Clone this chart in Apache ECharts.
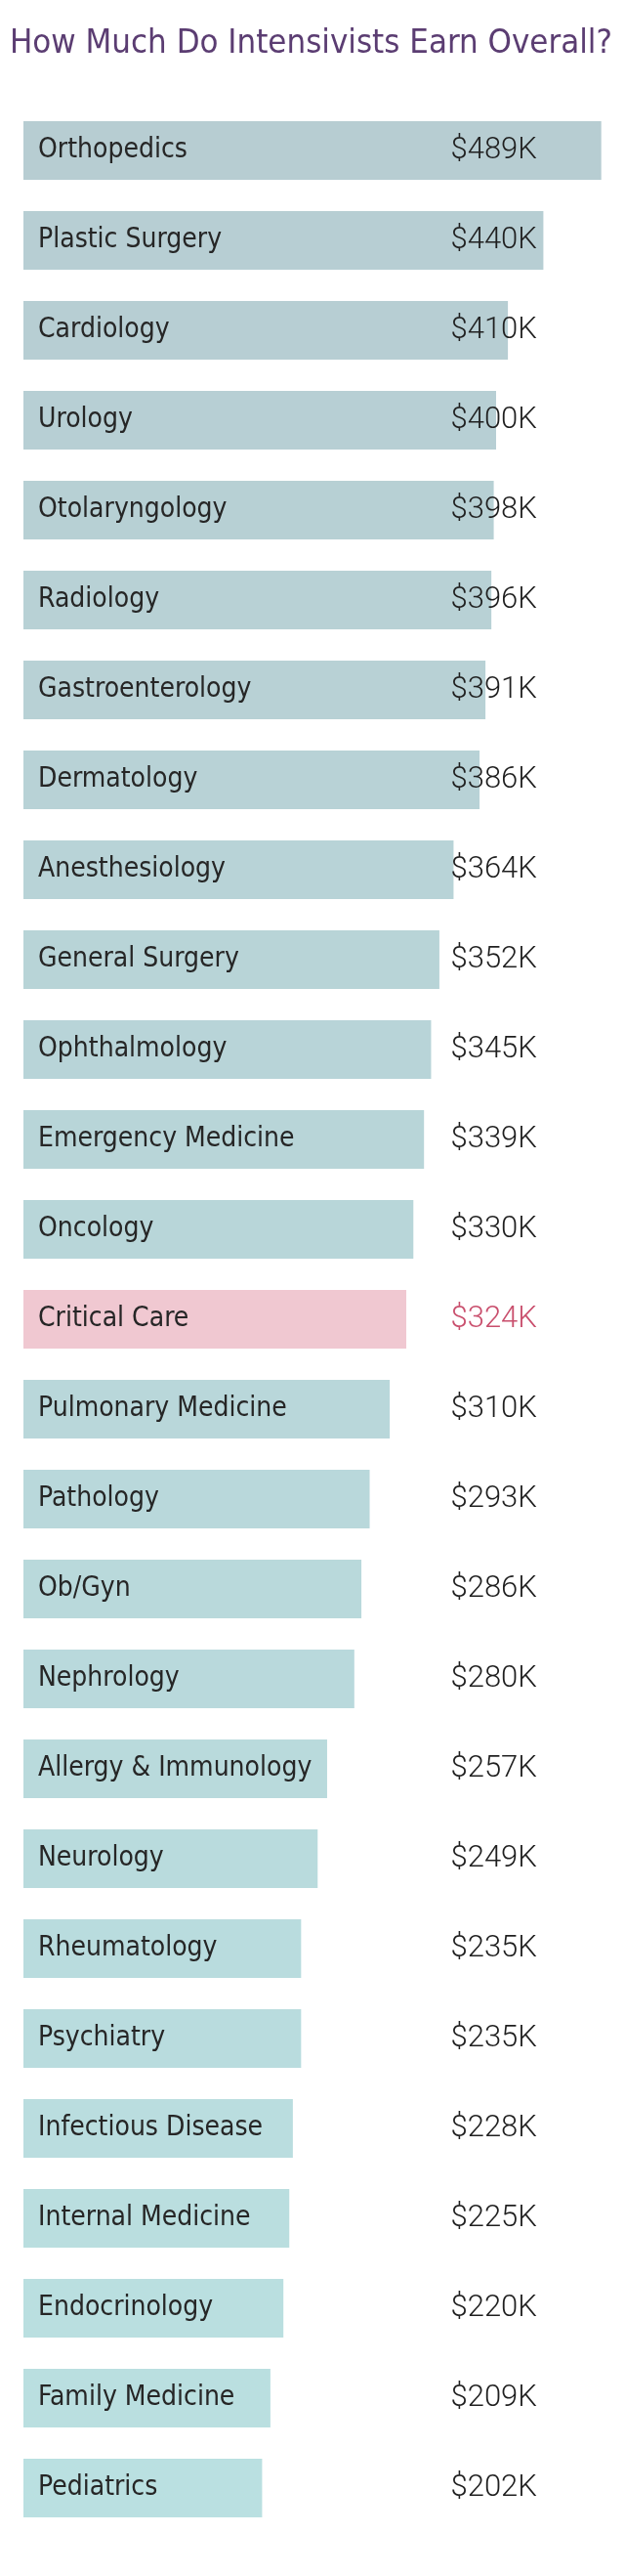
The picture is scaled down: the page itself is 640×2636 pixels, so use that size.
<!DOCTYPE html>
<html>
<head>
<meta charset="utf-8">
<script src="https://cdn.jsdelivr.net/npm/echarts@6/dist/echarts.min.js"></script>
<style>
html,body{margin:0;padding:0;background:#fff;}
#chart{width:640px;height:2636px;}
</style>
</head>
<body>
<div id="chart"></div>
<script>
const titleText = "How Much Do Intensivists Earn Overall?";
const specialties = ["Orthopedics","Plastic Surgery","Cardiology","Urology","Otolaryngology","Radiology","Gastroenterology","Dermatology","Anesthesiology","General Surgery","Ophthalmology","Emergency Medicine","Oncology","Critical Care","Pulmonary Medicine","Pathology","Ob/Gyn","Nephrology","Allergy & Immunology","Neurology","Rheumatology","Psychiatry","Infectious Disease","Internal Medicine","Endocrinology","Family Medicine","Pediatrics"];
const earnings = [489,440,410,400,398,396,391,386,364,352,345,339,330,324,310,293,286,280,257,249,235,235,228,225,220,209,202];
const highlight = "Critical Care";

const topColor = [183,205,210];
const bottomColor = [186,224,225];
const pink = "#f0c8d1";
function barColor(i){
  if (specialties[i] === highlight) return pink;
  const t = i/(specialties.length-1);
  const c = topColor.map((v,k)=>Math.round(v+(bottomColor[k]-v)*t));
  return "rgb("+c.join(",")+")";
}
const valueLabels = earnings.map(v => "$" + v + "K");

const chart = echarts.init(document.getElementById('chart'), null, {renderer:'canvas'});
chart.setOption({
  animation:false,
  backgroundColor:'#fff',
  title:{
    text:titleText,
    left:5, top:23,
    textStyle:{fontFamily:'"Liberation Sans Narrow","DejaVu Sans Condensed",Roboto,sans-serif',fontSize:34.5,fontWeight:'normal',color:'#5b3d72'}
  },
  grid:{left:24,right:11,top:108,bottom:44,containLabel:false},
  xAxis:{type:'value',min:0,max:500,show:false},
  yAxis:[{
    type:'category',
    data:specialties,
    inverse:true,
    axisLine:{show:false},axisTick:{show:false},splitLine:{show:false},
    axisLabel:{inside:true,margin:15,color:'#262626',fontSize:28,
      fontFamily:'"Liberation Sans Narrow","DejaVu Sans Condensed",Roboto,sans-serif',
      verticalAlign:'middle',padding:[0,0,5,0]},
    z:10
  },{
    type:'category',
    data:valueLabels,
    inverse:true,
    position:'right',
    axisLine:{show:false},axisTick:{show:false},splitLine:{show:false},
    axisLabel:{margin:-167.5,align:'left',fontSize:31,fontWeight:300,
      fontFamily:'Roboto,Lato,sans-serif',
      color:function(v,i){return specialties[i]===highlight?'#c94f6d':'#1f1f1f';}},
    z:10
  }],
  series:[{
    type:'bar',
    yAxisIndex:0,
    data:earnings.map((v,i)=>({value:v,itemStyle:{color:barColor(i)}})),
    barWidth:60,
    silent:true
  }]
});
</script>
</body>
</html>
